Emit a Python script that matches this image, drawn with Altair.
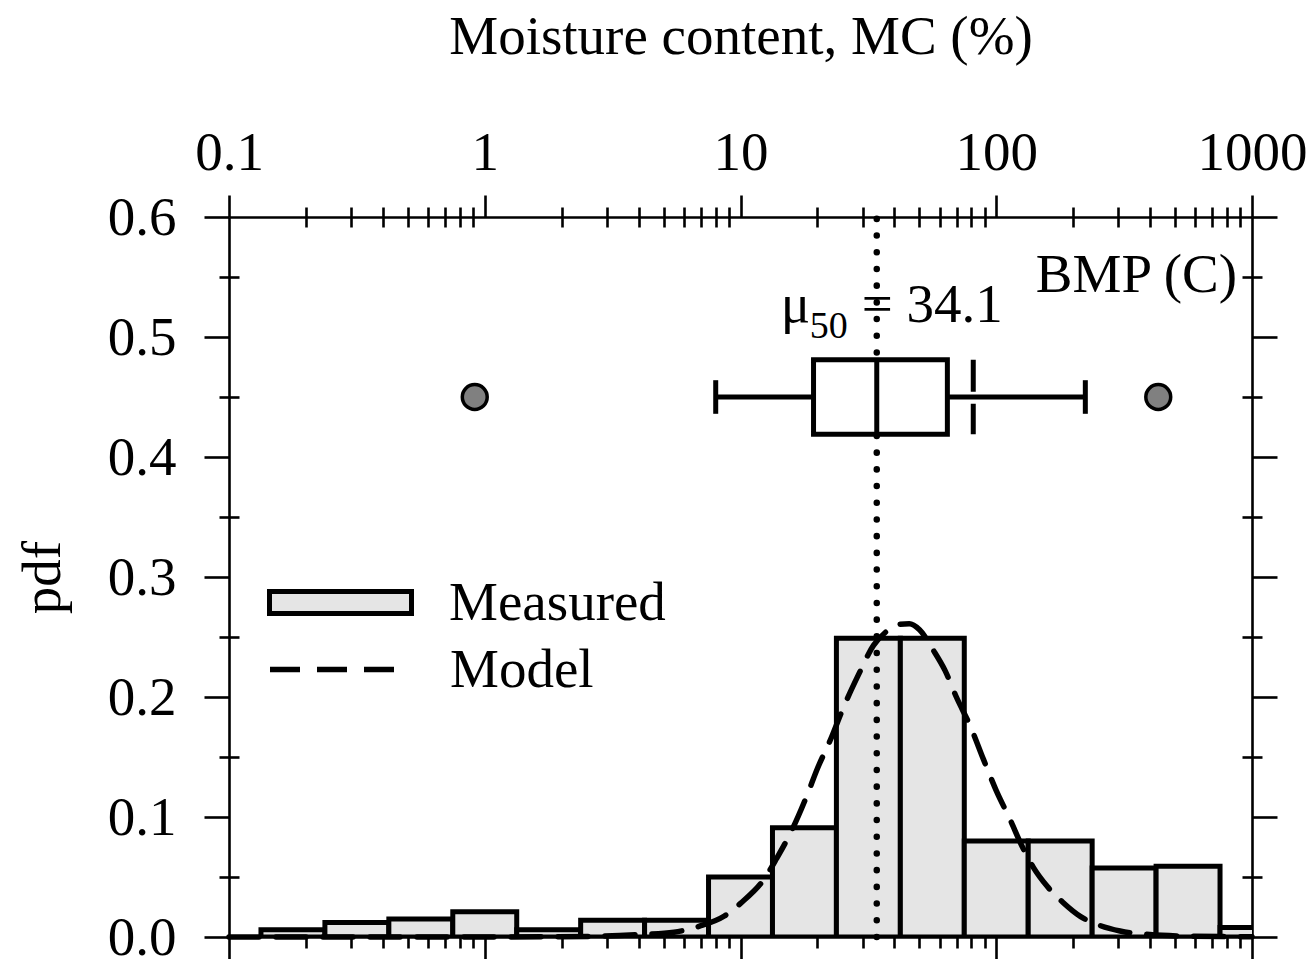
import altair as alt
import pandas as pd

FONT = "Liberation Serif"
FS = 55

# ---- histogram: lower bin edges in log10(MC), bin width 0.25 decade ----
bin_lower_log10 = [-0.875, -0.625, -0.375, -0.125, 0.125, 0.375, 0.625, 0.875,
                   1.125, 1.375, 1.625, 1.875, 2.125, 2.375, 2.625, 2.875]
bin_width_log10 = 0.25
bin_pdf = [0.006, 0.012, 0.015, 0.021, 0.006, 0.014, 0.014, 0.050,
           0.091, 0.249, 0.249, 0.080, 0.080, 0.0575, 0.059, 0.008]

# ---- model curve ----
model_log10 = [-1.0, 0.0, 0.4, 0.6, 0.74, 0.84, 0.937, 1.0, 1.098, 1.14, 1.203,
               1.26, 1.30, 1.355, 1.40, 1.46, 1.52, 1.57, 1.62, 1.66, 1.70,
               1.754, 1.80, 1.844, 1.90, 1.95, 2.0, 2.055, 2.1, 2.145, 2.2,
               2.26, 2.33, 2.40, 2.484, 2.6, 2.75, 3.0]
model_pdf = [0.0, 0.0, 0.0005, 0.002, 0.004, 0.009, 0.0175, 0.028, 0.05, 0.065, 0.09,
             0.118, 0.14, 0.166, 0.19, 0.218, 0.243, 0.2545, 0.2605, 0.261, 0.256,
             0.239, 0.222, 0.20, 0.175, 0.148, 0.122, 0.0975, 0.076, 0.058, 0.042,
             0.029, 0.017, 0.010, 0.005, 0.002, 0.0007, 0.0002]

# ---- box plot ----
box_y = 0.45
box_half = 0.031
cap_half = 0.014
whisker_low = 8.0
q1 = 19.3
median = 34.1
q3 = 64.4
whisker_high = 223.0
mean_mark = 81.3
outliers = [0.914, 430.0]

# ---- axes ----
major_x = [0.1, 1, 10, 100, 1000]
minor_x = [m * d for d in [0.1, 1, 10, 100] for m in range(2, 10)]
major_y = [0.0, 0.1, 0.2, 0.3, 0.4, 0.5, 0.6]
minor_y = [0.05, 0.15, 0.25, 0.35, 0.45, 0.55]

xs = alt.Scale(type="log", domain=[0.1, 1000], nice=False)
ys = alt.Scale(domain=[0, 0.6], nice=False, zero=False)

common = dict(domainColor="black", tickColor="black", tickWidth=2.6, domainWidth=2.6,
              grid=False, labelFlush=False, labelOverlap=False, labelBound=False)

ax_top = alt.Axis(orient="top", values=major_x, tickSize=22, format="~g",
                  labelFont=FONT, labelFontSize=FS, labelColor="black", labelPadding=14,
                  title="Moisture content, MC (%)", titleFont=FONT, titleFontSize=FS,
                  titleFontWeight="normal", titleColor="black", titlePadding=60, **common)
ax_top_minor = alt.Axis(orient="top", values=minor_x, tickSize=20, offset=-10,
                        labels=False, domain=False, title=None, **common)
ax_bottom = alt.Axis(orient="bottom", values=major_x, tickSize=22, labels=False,
                     title=None, **common)
ax_bottom_minor = alt.Axis(orient="bottom", values=minor_x, tickSize=11, labels=False,
                           domain=False, title=None, **common)
ax_left = alt.Axis(orient="left", values=major_y, tickSize=25, format=".1f",
                   labelFont=FONT, labelFontSize=FS, labelColor="black", labelPadding=28,
                   title="pdf", titleFont=FONT, titleFontSize=FS, titleFontWeight="normal",
                   titleColor="black", titlePadding=36, **common)
ax_left_minor = alt.Axis(orient="left", values=minor_y, tickSize=20, offset=-10,
                         labels=False, domain=False, title=None, **common)
ax_right = alt.Axis(orient="right", values=major_y, tickSize=25, labels=False,
                    title=None, **common)
ax_right_minor = alt.Axis(orient="right", values=minor_y, tickSize=20, offset=-10,
                          labels=False, domain=False, title=None, **common)

# ---- data frames ----
bars = pd.DataFrame({
    "lo": [10 ** v for v in bin_lower_log10],
    "hi": [10 ** (v + bin_width_log10) for v in bin_lower_log10],
    "pdf": bin_pdf,
    "zero": 0.0,
    "kind": "Measured",
})
model = pd.DataFrame({"mc": [10 ** v for v in model_log10], "pdf": model_pdf, "kind": "Model"})
medline = pd.DataFrame({"x": [median], "y0": [0.0], "y1": [0.6]})
box = pd.DataFrame({"q1": [q1], "q3": [q3], "lo": [box_y - box_half], "hi": [box_y + box_half]})
whisk = pd.DataFrame({"x": [whisker_low, q3], "x2": [q1, whisker_high], "y": [box_y, box_y]})
caps = pd.DataFrame({"x": [whisker_low, whisker_high], "y0": [box_y - cap_half] * 2,
                     "y1": [box_y + cap_half] * 2})
med_box = pd.DataFrame({"x": [median], "y0": [box_y - box_half], "y1": [box_y + box_half]})
mean_df = pd.DataFrame({"x": [mean_mark], "y0": [box_y - box_half], "y1": [box_y + box_half]})
out_df = pd.DataFrame({"x": outliers, "y": [box_y] * len(outliers)})

lab_y = 0.5125
mu_df = pd.DataFrame({"x": [median], "y": [lab_y]})
bmp_df = pd.DataFrame({"x": [1000.0], "y": [0.5375]})

NA = None
SW = 5

bar_layer = alt.Chart(bars).mark_rect(stroke="black", strokeWidth=SW, clip=True).encode(
    x=alt.X("lo:Q", scale=xs, axis=ax_top),
    x2="hi:Q",
    y=alt.Y("pdf:Q", scale=ys, axis=ax_left),
    y2="zero:Q",
    fill=alt.Fill("kind:N", scale=alt.Scale(domain=["Measured"], range=["#e5e5e5"]),
                  legend=alt.Legend(title=None, orient="none", legendX=38, legendY=312,
                                    symbolType="M-1,-0.155L1,-0.155L1,0.155L-1,0.155Z",
                                    symbolSize=20164, symbolStrokeColor="black",
                                    symbolStrokeWidth=SW, symbolFillColor="#e5e5e5",
                                    labelFont=FONT, labelFontSize=FS, labelColor="black",
                                    labelOffset=35, labelLimit=0, padding=0)),
)

model_layer = alt.Chart(model).mark_line(color="black", strokeWidth=5.5, strokeCap="round",
                                         interpolate="monotone").encode(
    x=alt.X("mc:Q", scale=xs, axis=ax_top_minor),
    y=alt.Y("pdf:Q", scale=ys, axis=ax_left_minor),
    strokeDash=alt.StrokeDash("kind:N", scale=alt.Scale(domain=["Model"], range=[[30, 17]]),
                              legend=alt.Legend(title=None, orient="none", legendX=38, legendY=386,
                                                symbolType="stroke", symbolSize=16129,
                                                symbolStrokeWidth=5.5, symbolStrokeColor="black",
                                                labelFont=FONT, labelFontSize=FS, labelLimit=0,
                                                labelColor="black", labelOffset=50, padding=0)),
)

dotted = alt.Chart(medline).mark_rule(color="black", strokeWidth=6.5, strokeCap="round",
                                      strokeDash=[0.1, 16.6]).encode(
    x=alt.X("x:Q", scale=xs, axis=ax_bottom),
    y=alt.Y("y0:Q", scale=ys, axis=ax_right),
    y2="y1:Q",
)

box_layer = alt.Chart(box).mark_rect(fill="white", stroke="black", strokeWidth=SW).encode(
    x=alt.X("q1:Q", scale=xs, axis=ax_bottom_minor),
    x2="q3:Q",
    y=alt.Y("lo:Q", scale=ys, axis=ax_right_minor),
    y2="hi:Q",
)

whisk_layer = alt.Chart(whisk).mark_rule(color="black", strokeWidth=SW).encode(
    x=alt.X("x:Q", scale=xs, axis=NA), x2="x2:Q", y=alt.Y("y:Q", scale=ys, axis=NA))

caps_layer = alt.Chart(caps).mark_rule(color="black", strokeWidth=SW).encode(
    x=alt.X("x:Q", scale=xs, axis=NA), y=alt.Y("y0:Q", scale=ys, axis=NA), y2="y1:Q")

med_layer = alt.Chart(med_box).mark_rule(color="black", strokeWidth=SW).encode(
    x=alt.X("x:Q", scale=xs, axis=NA), y=alt.Y("y0:Q", scale=ys, axis=NA), y2="y1:Q")

mean_layer = alt.Chart(mean_df).mark_rule(color="black", strokeWidth=SW, strokeDash=[32, 12]).encode(
    x=alt.X("x:Q", scale=xs, axis=NA), y=alt.Y("y1:Q", scale=ys, axis=NA), y2="y0:Q")

out_layer = alt.Chart(out_df).mark_point(filled=True, fill="#808080", stroke="black",
                                         strokeWidth=3.5, size=620, opacity=1,
                                         fillOpacity=1, strokeOpacity=1).encode(
    x=alt.X("x:Q", scale=xs, axis=NA), y=alt.Y("y:Q", scale=ys, axis=NA))

txt = dict(font=FONT, color="black", baseline="alphabetic", align="left")
mu_layer = alt.Chart(mu_df).mark_text(text="μ", fontSize=FS, dx=-96, **txt).encode(
    x=alt.X("x:Q", scale=xs, axis=NA), y=alt.Y("y:Q", scale=ys, axis=NA))
sub_layer = alt.Chart(mu_df).mark_text(text="50", fontSize=38, dx=-67, dy=16, **txt).encode(
    x=alt.X("x:Q", scale=xs, axis=NA), y=alt.Y("y:Q", scale=ys, axis=NA))
eq_layer = alt.Chart(mu_df).mark_text(text="= 34.1", fontSize=FS, dx=-15, **txt).encode(
    x=alt.X("x:Q", scale=xs, axis=NA), y=alt.Y("y:Q", scale=ys, axis=NA))
bmp_layer = alt.Chart(bmp_df).mark_text(text="BMP (C)", fontSize=FS, dx=-15, font=FONT,
                                        color="black", baseline="alphabetic", align="right").encode(
    x=alt.X("x:Q", scale=xs, axis=NA), y=alt.Y("y:Q", scale=ys, axis=NA))

chart = alt.layer(
    bar_layer, model_layer, dotted, box_layer, whisk_layer, caps_layer, med_layer,
    mean_layer, out_layer, mu_layer, sub_layer, eq_layer, bmp_layer,
).resolve_axis(x="independent", y="independent").properties(
    width=1023, height=720,
    autosize=alt.AutoSizeParams(type="none"),
    padding={"left": 229, "top": 217, "right": 62, "bottom": 22},
    background="white",
).configure_view(stroke=None)

chart.save("out.html", embed_options={"renderer": "svg", "actions": False})
